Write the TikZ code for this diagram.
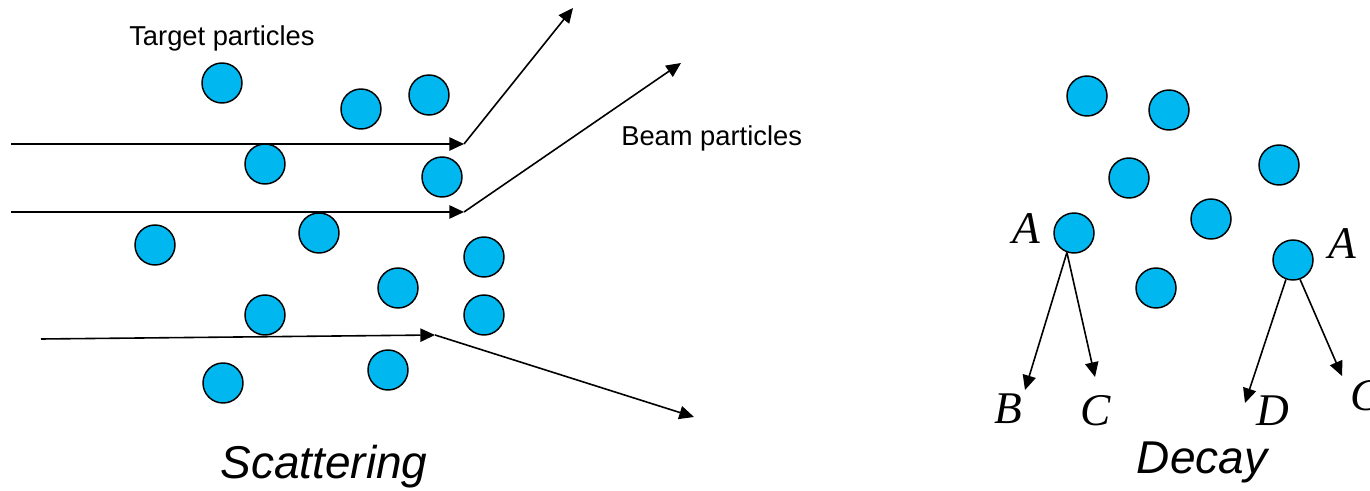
\documentclass[tikz,border=0pt]{standalone}
\usepackage{fontspec}
\setmainfont{Liberation Serif}
\setsansfont{Liberation Sans}
\definecolor{ptblue}{RGB}{0,183,240}
\usetikzlibrary{arrows.meta}
\tikzset{
  particle/.style={circle,draw=black,line width=1.1pt,fill=ptblue,
    minimum size=30pt,inner sep=0pt},
  beam/.style={-{Triangle[length=11pt,width=10pt]},line width=1.2pt},
  lbl/.style={font=\sffamily\fontsize{20.5}{24}\selectfont,anchor=base west,inner sep=0pt},
  ttl/.style={font=\sffamily\itshape\fontsize{34.5}{40}\selectfont,anchor=base,inner sep=0pt},
  sym/.style={font=\itshape\fontsize{34}{40}\selectfont,anchor=base,inner sep=0pt}
}
\begin{document}
\begin{tikzpicture}[x=0.75pt,y=-0.75pt]
  \useasboundingbox (0,0) rectangle (1370,491);
  % Target particles (scattering)
  \foreach \n/\x/\y in {1/222/83, 2/361/109, 3/429/95, 4/265/164, 5/442/177,
      6/155/245, 7/319/233, 8/484/257, 9/398/288, 10/265/315, 11/484/315,
      12/388/370, 13/223/383}
    \node[particle] (t\n) at (\x,\y) {};
  % Beam paths
  \coordinate (in1) at (11,144);  \coordinate (hit1) at (464,144); \coordinate (out1) at (573,8);
  \coordinate (in2) at (11,212);  \coordinate (hit2) at (464,212); \coordinate (out2) at (681,63);
  \coordinate (in3) at (41,339);  \coordinate (hit3) at (435,335); \coordinate (out3) at (694,417);
  \foreach \k in {1,2,3} {
    \draw[beam] (in\k) -- (hit\k);
    \draw[beam] (hit\k) -- (out\k);
  }
  % Labels
  \node[lbl] (tgt) at (129,46) {Target particles};
  \node[lbl] (bm) at (621,146) {Beam particles};
  \node[ttl] (scat) at (324,478) {Scattering};
  % Decay particles
  \foreach \n/\x/\y in {1/1087/96, 2/1169/110, 3/1129/178, 4/1279/165,
      5/1211/219, 6/1156/288}
    \node[particle] (d\n) at (\x,\y) {};
  \node[particle] (aL) at (1074,233) {};
  \node[particle] (aR) at (1293,260) {};
  % Decay products
  \coordinate (tB) at (1025,390);
  \coordinate (tC) at (1095,377);
  \coordinate (tD) at (1245,403);
  \coordinate (tC2) at (1342,376);
  \draw[beam] (aL.-110) -- (tB);
  \draw[beam] (aL.-110) -- (tC);
  \draw[beam] (aR.-110) -- (tD);
  \draw[beam] (aR.-70) -- (tC2);
  \node[sym] (lA1) at (1026,244) {A};
  \node[sym] (lA2) at (1342,259) {A};
  \node[sym] (lB) at (1008,423) {B};
  \node[sym] (lC1) at (1096,425) {C};
  \node[sym] (lD) at (1273,425) {D};
  \node[sym] (lC2) at (1366,410) {C};
  \node[ttl] (dec) at (1202,473) {Decay};
\end{tikzpicture}
\end{document}
